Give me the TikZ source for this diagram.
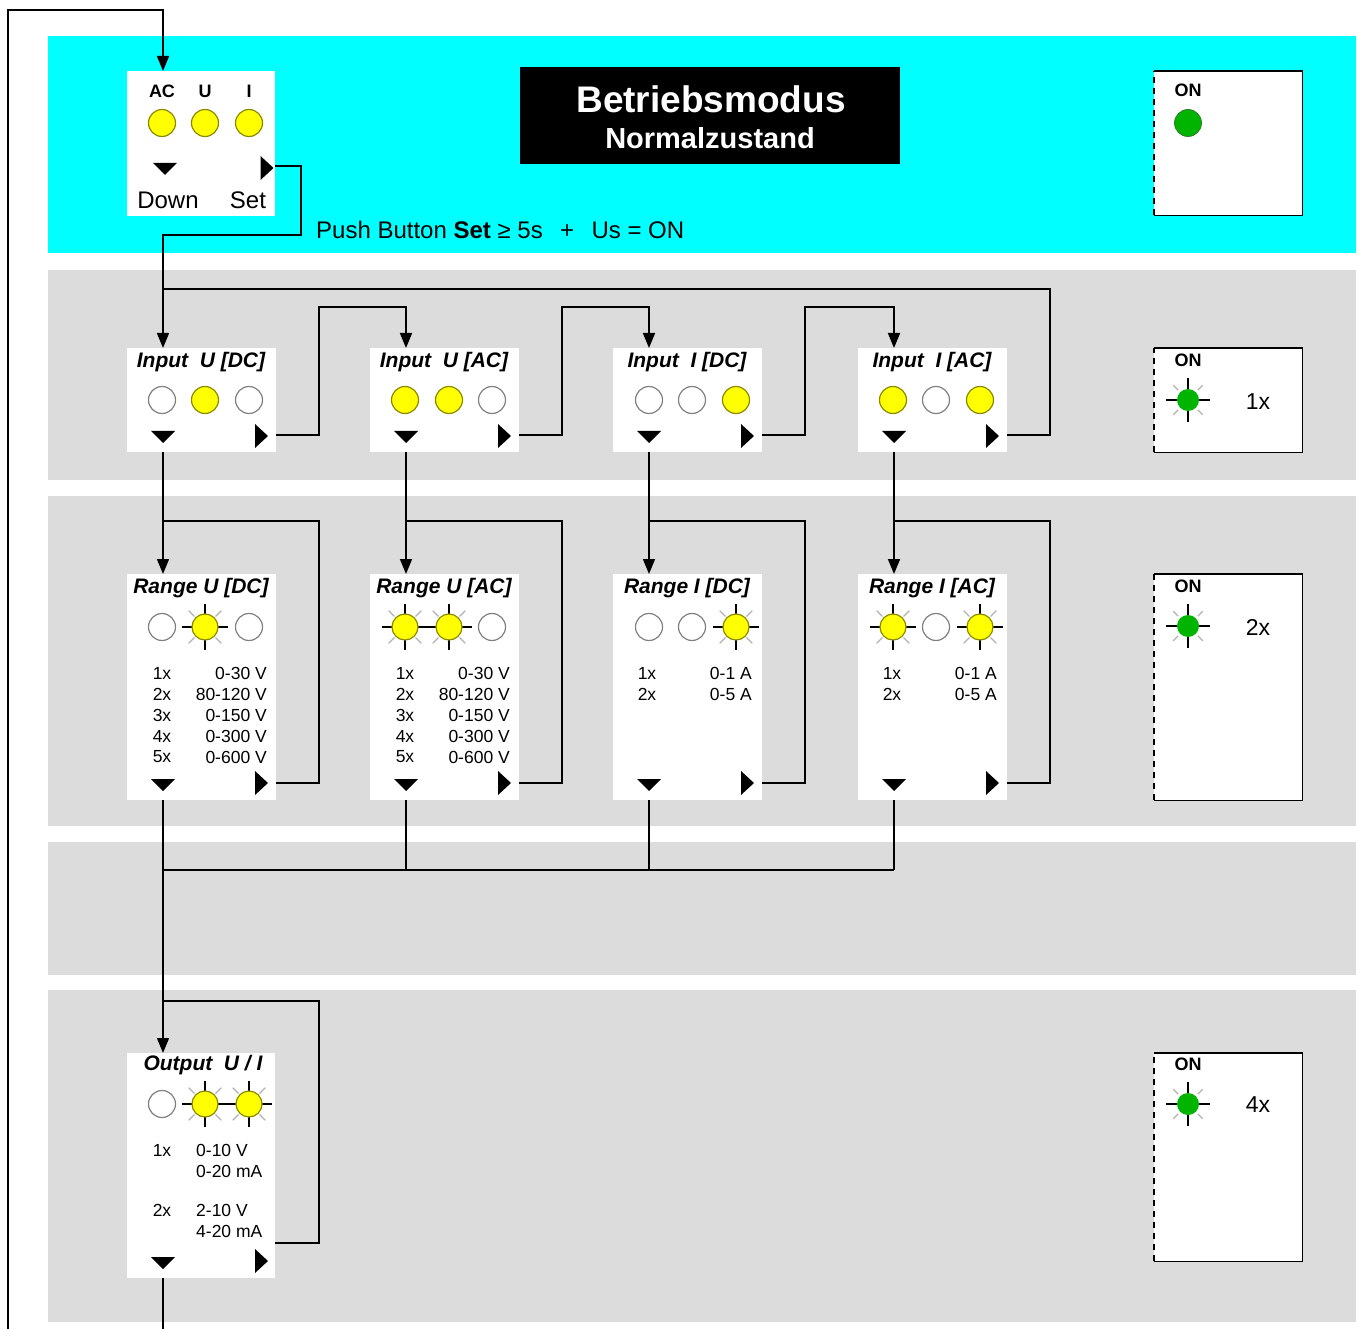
\documentclass[tikz,border=0pt]{standalone}
\usepackage{fontspec}
\setmainfont{Liberation Sans}
\usetikzlibrary{arrows.meta}
\definecolor{cyanbg}{HTML}{00FFFF}
\definecolor{graybg}{HTML}{DCDCDC}
\definecolor{ledy}{HTML}{FFFF00}
\definecolor{ledyo}{HTML}{8A8A00}
\definecolor{ledg}{HTML}{00B400}
\definecolor{ledgo}{HTML}{2E7D2E}
\tikzset{
  conn/.style={line width=1.6pt, black},
  arr/.style={conn, -{Triangle[length=15pt,width=12pt]}},
  wbox/.style={fill=white, draw=none, inner sep=0pt, anchor=north west},
  ttl/.style={font=\fontsize{21}{24}\selectfont\bfseries\itshape, inner sep=0pt},
  sm/.style={font=\fontsize{17.5}{20}\selectfont, inner sep=0pt},
  lbl/.style={font=\fontsize{18}{20}\selectfont\bfseries, inner sep=0pt},
  big/.style={font=\fontsize{24}{26}\selectfont, inner sep=0pt},
  cnt/.style={font=\fontsize{23}{26}\selectfont, inner sep=0pt},
}
\newcommand\LedOff[2]{\draw[fill=white, draw=black!50, line width=1.2pt] (#1,#2) circle[radius=13.5pt];}
\newcommand\LedOn[2]{\draw[fill=ledy, draw=ledyo, line width=1.2pt] (#1,#2) circle[radius=13.5pt];}
\newcommand\BlinkY[2]{%
  \begin{scope}[shift={(#1,#2)}]
    \foreach \a in {45,135,225,315}{\draw[black!30, line width=1.3pt] (\a:15) -- (\a:23);}
    \draw[black, line width=1.5pt] (-23,0) -- (23,0) (0,-23) -- (0,23);
    \draw[fill=ledy, draw=ledyo, line width=1.2pt] (0,0) circle[radius=13pt];
  \end{scope}}
\newcommand\BlinkG[2]{%
  \begin{scope}[shift={(#1,#2)}]
    \foreach \a in {45,135,225,315}{\draw[black!30, line width=1.3pt] (\a:14) -- (\a:21);}
    \draw[black, line width=1.5pt] (-22,0) -- (22,0) (0,-22) -- (0,22);
    \fill[ledg] (0,0) circle[radius=11pt];
  \end{scope}}
\newcommand\DTri[2]{\fill[black] (#1-12,#2-6) -- (#1+12,#2-6) -- (#1,#2+6) -- cycle;}
\newcommand\RTri[2]{\fill[black] (#1-6.5,#2-12) -- (#1-6.5,#2+12) -- (#1+6.5,#2) -- cycle;}
\newcommand\OnBox[5]{%
  \node[wbox, minimum width=148pt, minimum height=#4pt] (#1) at (#2,#3) {};
  \draw[conn] (#1.north west) -- (#1.north east) -- (#1.south east) -- (#1.south west);
  \draw[conn, dash pattern=on 6pt off 5pt] (#1.south west) -- (#1.north west);
  \node[lbl] at (#2+34,#3+#5) {ON};}

\begin{document}
\begin{tikzpicture}[x=1pt,y=-1pt]
\useasboundingbox (0,0) rectangle (1358,1329);
\fill[white] (0,0) rectangle (1358,1329);
% bands
\fill[cyanbg] (48,36) rectangle (1356,253);
\fill[graybg] (48,270) rectangle (1356,480);
\fill[graybg] (48,496) rectangle (1356,826);
\fill[graybg] (48,842) rectangle (1356,975);
\fill[graybg] (48,990) rectangle (1356,1322);

% ---------- top box
\node[wbox, minimum width=148pt, minimum height=145pt] (topbox) at (127,71) {};
\coordinate (topbox-top) at (163,71);
\coordinate (topbox-out) at (275,166);
\node[lbl] at (162,91) {AC};
\node[lbl] at (205,91) {U};
\node[lbl] at (249,91) {I};
\LedOn{162}{123}\LedOn{205}{123}\LedOn{249}{123}
\DTri{165}{169}
\RTri{267}{168}
\node[big] at (168,200) {Down};
\node[big] at (248,200) {Set};

% title
\node[fill=black, inner sep=0pt, minimum width=380pt, minimum height=97pt, anchor=north west] (title) at (520,67) {};
\node[font=\fontsize{37}{40}\selectfont\bfseries, text=white, inner sep=0pt] at (711,99) {Betriebsmodus};
\node[font=\fontsize{29}{31}\selectfont\bfseries, text=white, inner sep=0pt] at (710,138) {Normalzustand};

\node[font=\fontsize{24}{26}\selectfont, inner sep=0pt, anchor=west] (push) at (316,230) {Push Button \textbf{Set} ≥ 5s~~\,+\,~~Us = ON};

% ON boxes
\OnBox{onA}{1154}{71}{144}{19}
\fill[ledg] (1188,123) circle[radius=13.5pt];
\draw[ledgo, line width=0.8pt] (1188,123) circle[radius=13.5pt];
\OnBox{onB}{1154}{348}{104}{12}
\BlinkG{1188}{400}
\node[cnt] at (1258,402) {1x};
\OnBox{onC}{1154}{574}{226}{12}
\BlinkG{1188}{626}
\node[cnt] at (1258,627) {2x};
\OnBox{onD}{1154}{1053}{208}{11}
\BlinkG{1188}{1104}
\node[cnt] at (1258,1105) {4x};

% ---------- input row
\foreach \n/\x/\t in {inA/127/{Input~ U [DC]}, inB/370/{Input~ U [AC]}, inC/613/{Input~ I [DC]}, inD/858/{Input~ I [AC]}}{
  \node[wbox, minimum width=149pt, minimum height=104pt] (\n) at (\x,348) {};
  \coordinate (\n-top) at (\x+36,348);
  \coordinate (\n-bot) at (\x+36,452);
  \coordinate (\n-out) at (\x+149,435);
  \coordinate (\n-hop) at (\x+192,435);
  \node[ttl] at (\x+74,362) {\t};
  \DTri{\x+36}{437}
  \RTri{\x+134.5}{436}
}
\LedOff{162}{400}\LedOn{205}{400}\LedOff{249}{400}
\LedOn{405}{400}\LedOn{449}{400}\LedOff{492}{400}
\LedOff{649}{400}\LedOff{692}{400}\LedOn{736}{400}
\LedOn{893}{400}\LedOff{936}{400}\LedOn{980}{400}

% ---------- range row
\foreach \n/\x/\t in {rA/127/{Range U [DC]}, rB/370/{Range U [AC]}, rC/613/{Range I [DC]}, rD/858/{Range I [AC]}}{
  \node[wbox, minimum width=149pt, minimum height=226pt] (\n) at (\x,574) {};
  \coordinate (\n-top) at (\x+36,574);
  \coordinate (\n-bot) at (\x+36,800);
  \coordinate (\n-out) at (\x+149,783);
  \coordinate (\n-hop) at (\x+192,521);
  \coordinate (\n-join) at (\x+36,521);
  \node[ttl] at (\x+74,588) {\t};
  \DTri{\x+36}{785}
  \RTri{\x+134.5}{783}
}
\foreach \x in {127,370}{
  \foreach \k/\v [count=\i] in {1x/0-30 V, 2x/80-120 V, 3x/0-150 V, 4x/0-300 V, 5x/0-600 V}{
    \node[sm] at (\x+35,652+21*\i) {\k};
    \node[sm, anchor=east] at (\x+140,652+21*\i) {\v};
  }
}
\foreach \x in {613,858}{
  \foreach \k/\v [count=\i] in {1x/0-1 A, 2x/0-5 A}{
    \node[sm] at (\x+34,652+21*\i) {\k};
    \node[sm, anchor=east] at (\x+139,652+21*\i) {\v};
  }
}
\LedOff{162}{627}\BlinkY{205}{627}\LedOff{249}{627}
\BlinkY{405}{627}\BlinkY{449}{627}\LedOff{492}{627}
\LedOff{649}{627}\LedOff{692}{627}\BlinkY{736}{627}
\BlinkY{893}{627}\LedOff{936}{627}\BlinkY{980}{627}

% ---------- output box
\node[wbox, minimum width=148pt, minimum height=225pt] (outp) at (127,1053) {};
\coordinate (outp-top) at (163,1053);
\coordinate (outp-bot) at (163,1278);
\coordinate (outp-out) at (275,1243);
\coordinate (outp-hop) at (319,1001);
\coordinate (outp-join) at (163,1001);
\node[ttl] at (203,1065) {Output~ U / I};
\LedOff{162}{1104}\BlinkY{205}{1104}\BlinkY{249}{1104}
\node[sm] at (162,1150) {1x};
\node[sm, anchor=west] at (196,1150) {0-10 V};
\node[sm, anchor=west] at (196,1171) {0-20 mA};
\node[sm] at (162,1210) {2x};
\node[sm, anchor=west] at (196,1210) {2-10 V};
\node[sm, anchor=west] at (196,1231) {4-20 mA};
\DTri{163}{1263}
\RTri{261.5}{1261}

% ---------- connectors
\coordinate (loopB) at (8,1329);
\coordinate (loopT) at (163,10);
\coordinate (setC) at (301,235);
\coordinate (inLoop) at (1050,289);
\coordinate (inJoin) at (163,289);
\coordinate (bus) at (0,870);
\coordinate (outEnd) at (163,1329);

\draw[arr] (loopB) |- (loopT) -- (topbox-top);
\draw[arr] (topbox-out) -| (setC) -| (inA-top);
\draw[conn] (inD-out) -| (inLoop) -- (inJoin);
\draw[arr] (inA-out) -| (inA-hop |- 0,307) -| (inB-top);
\draw[arr] (inB-out) -| (inB-hop |- 0,307) -| (inC-top);
\draw[arr] (inC-out) -| (inC-hop |- 0,307) -| (inD-top);

\foreach \n in {A,B,C,D}{
  \draw[arr] (in\n-bot) -- (r\n-top);
  \draw[conn] (r\n-out) -| (r\n-hop) -- (r\n-join);
}
\foreach \n in {B,C,D}{\draw[conn] (r\n-bot) -- (r\n-bot |- bus);}
\draw[conn] (rA-bot |- bus) -- (rD-bot |- bus);
\draw[arr] (rA-bot) -- (outp-top);
\draw[conn] (outp-out) -| (outp-hop) -- (outp-join);
\draw[conn] (outp-bot) -- (outEnd);
\end{tikzpicture}
\end{document}
